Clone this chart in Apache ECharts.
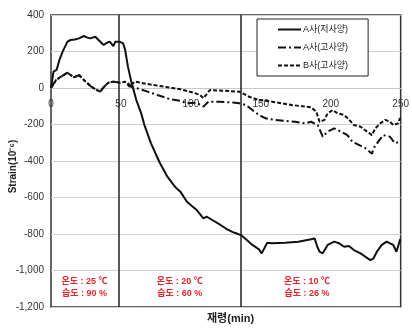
<!DOCTYPE html>
<html>
<head>
<meta charset="utf-8">
<script src="https://cdn.jsdelivr.net/npm/echarts@6/dist/echarts.min.js"></script>
<style>
  html, body { margin: 0; padding: 0; background: #fff; }
  #chart { width: 412px; height: 333px; }
</style>
</head>
<body>
<div id="chart"></div>
<script>
// Strain over curing time (minutes) for three specimens
const seriesNames = ['A사(저사양)', 'A사(고사양)', 'B사(고사양)'];

// [minute, strain] pairs
const aLowSpec = [
  [0,0],[1.8,90],[4,99],[6,153],[8.3,199],[11.8,254],[14,263],[17,266],[20,272],[23.5,285],
  [26,276],[28,272],[31.7,281],[34,263],[37.6,236],[40,248],[42,254],[44.6,230],[46,254],[49,254],
  [51.6,245],[53,208],[55,117],[57.4,35],[61,-66],[64.5,-139],[66.8,-203],[71.5,-303],[77.4,-404],
  [83.2,-486],[89,-544],[92.5,-568],[97.2,-623],[100.7,-647],[104.2,-669],[109,-714],[111.3,-705],
  [115,-722],[120,-745],[125,-770],[130,-790],[132.3,-796],[135.8,-806],[139.4,-829],[144,-860],
  [148.7,-884],[150.6,-906],[154.6,-848],[158,-851],[167.4,-848],[176.8,-842],[186,-829],[188.5,-824],
  [190.4,-870],[192,-897],[194.3,-906],[197.8,-860],[202.5,-842],[206,-851],[209.6,-870],[213,-866],
  [216.6,-888],[221.3,-906],[228.3,-943],[230.6,-933],[233,-897],[236.5,-860],[240,-842],[242.4,-851],
  [244.7,-860],[247,-897],[249.5,-833],[250,-829]
];

const aHighSpec = [
  [0,0],[3.6,44],[7.2,62],[11.8,84],[14,71],[16.5,59],[20,71],[23.5,44],[28.2,11],[31.7,-7],
  [35.2,-20],[37.6,4],[41,29],[44.6,35],[49.3,29],[54,35],[57.4,7],[63,-5],[69,-20],[76,-38],
  [85.5,-62],[92.5,-70],[97.2,-84],[104.2,-80],[109,-102],[112.5,-75],[120.6,-75],[130,-80],
  [134.7,-84],[139.4,-93],[144,-121],[148.7,-148],[153.4,-166],[160,-175],[167,-180],[174.5,-185],
  [181.5,-194],[186,-185],[190.7,-203],[194.3,-267],[197.8,-239],[202.5,-221],[207.2,-239],
  [211.9,-258],[215.4,-294],[220.1,-312],[224.8,-330],[229.5,-360],[230.6,-330],[234,-294],
  [237.6,-258],[242.4,-267],[245.9,-303],[249.4,-294],[250,-290]
];

const bHighSpec = [
  [0,0],[3.6,44],[7.2,62],[11.8,84],[14,71],[16.5,59],[20,71],[23.5,44],[28.2,11],[31.7,-7],
  [35.2,-20],[37.6,4],[41,29],[44.6,35],[49.3,29],[52.8,35],[56.3,7],[59.8,35],[69,22],[81,7],
  [92.5,-7],[102,-26],[106.6,-38],[109,-56],[113.6,-11],[123,-15],[134.7,-20],[141.7,-48],
  [148.7,-66],[158,-75],[172,-93],[181.5,-102],[186,-106],[189.7,-130],[192,-185],[195.5,-175],
  [197.8,-139],[201.4,-121],[204.9,-139],[209.6,-148],[213,-172],[216.6,-203],[221.3,-212],
  [226,-239],[229.5,-258],[231.9,-221],[235.4,-194],[239,-175],[242.4,-185],[244.7,-203],
  [248.2,-194],[249.4,-166],[250,-170]
];

// Boundaries between curing conditions (minutes)
const phaseBounds = [48.5, 135.5];

// Curing conditions shown in each phase
const phaseLabels = [
  { x: 24, temp: '온도 : 25 ℃', hum: '습도 : 90 %' },
  { x: 92, temp: '온도 : 20 ℃', hum: '습도 : 60 %' },
  { x: 183, temp: '온도 : 10 ℃', hum: '습도 : 26 %' }
];

const xTicks = { min: 0, max: 250, interval: 50 };
const yTicks = { min: -1200, max: 400, interval: 200 };

const FONT = '"Liberation Sans", Arial, "Noto Sans CJK KR", sans-serif';
const chart = echarts.init(document.getElementById('chart'), null, { renderer: 'canvas' });

const GRID = { left: 51, right: 4, top: 15, bottom: 26 };
const PLOT_H = 333 - GRID.top - GRID.bottom;
// Distance from the bottom edge up to the zero line, so minute labels sit under it
const zeroOffset = -PLOT_H * (0 - yTicks.min) / (yTicks.max - yTicks.min);

const option = {
  animation: false,
  backgroundColor: '#fff',
  textStyle: { fontFamily: FONT },
  grid: Object.assign({ show: true, borderColor: '#333', borderWidth: 1.5, backgroundColor: 'transparent' }, GRID),
  legend: {
    orient: 'vertical',
    left: 257,
    top: 19,
    width: 113,
    padding: [6, 20, 6, 20],
    itemGap: 9,
    itemWidth: 23,
    itemHeight: 11,
    borderColor: '#222',
    borderWidth: 1,
    backgroundColor: '#fff',
    itemStyle: { color: 'transparent', borderWidth: 0, opacity: 0 },
    textStyle: { fontSize: 9, color: '#222', fontFamily: FONT, padding: [0, 0, 0, -3] },
    data: seriesNames
  },
  xAxis: {
    type: 'value',
    position: 'bottom',
    offset: zeroOffset,
    min: xTicks.min, max: xTicks.max, interval: xTicks.interval,
    axisLine: { onZero: false, lineStyle: { color: '#c8c8c8', width: 1 } },
    axisTick: { show: false },
    axisLabel: { fontSize: 10, color: '#333', margin: 11, fontFamily: FONT },
    splitLine: { show: false }
  },
  yAxis: {
    type: 'value',
    min: yTicks.min, max: yTicks.max, interval: yTicks.interval,
    axisLine: { show: false },
    axisTick: { show: false },
    axisLabel: { fontSize: 10, color: '#333', margin: 7, fontFamily: FONT },
    splitLine: { lineStyle: { color: '#d0d0d0', width: 1 } }
  },
  series: [
    {
      name: seriesNames[0], type: 'line', data: aLowSpec, symbol: 'none',
      lineStyle: { color: '#111', width: 2 }, itemStyle: { color: '#111' },
      z: 5,
      markLine: {
        silent: true, symbol: 'none', label: { show: false },
        lineStyle: { color: '#222', width: 1.5, type: 'solid' },
        data: phaseBounds.map(v => ({ xAxis: v }))
      }
    },
    {
      name: seriesNames[1], type: 'line', data: aHighSpec, symbol: 'none',
      lineStyle: { color: '#111', width: 2, type: [8, 3, 2, 3] }, itemStyle: { color: '#111' },
      z: 4
    },
    {
      name: seriesNames[2], type: 'line', data: bHighSpec, symbol: 'none',
      lineStyle: { color: '#111', width: 2, type: [4, 2] }, itemStyle: { color: '#111' },
      z: 4
    }
  ],
  graphic: [
    {
      type: 'text', left: 8, top: 'middle',
      rotation: Math.PI / 2,
      style: { text: 'Strain(10⁻⁶)', font: 'bold 10px ' + FONT, fill: '#222' }
    },
    {
      type: 'text', left: 207, top: 313,
      style: { text: '재령(min)', font: 'bold 11px ' + FONT, fill: '#222' }
    }
  ]
};

chart.setOption(option);

// Phase condition labels placed through the axis scales
function placePhaseLabels() {
  const g = option.graphic.slice(0, 2);
  phaseLabels.forEach(p => {
    const pt1 = chart.convertToPixel({ gridIndex: 0 }, [p.x, -1058]);
    const pt2 = chart.convertToPixel({ gridIndex: 0 }, [p.x, -1124]);
    g.push({ type: 'text', x: pt1[0], y: pt1[1], style: { text: p.temp, font: 'bold 9px ' + FONT, fill: '#e3262e', textAlign: 'center', textVerticalAlign: 'middle' } });
    g.push({ type: 'text', x: pt2[0], y: pt2[1], style: { text: p.hum, font: 'bold 9px ' + FONT, fill: '#e3262e', textAlign: 'center', textVerticalAlign: 'middle' } });
  });
  chart.setOption({ graphic: g }, { replaceMerge: ['graphic'] });
}
placePhaseLabels();
</script>
</body>
</html>
